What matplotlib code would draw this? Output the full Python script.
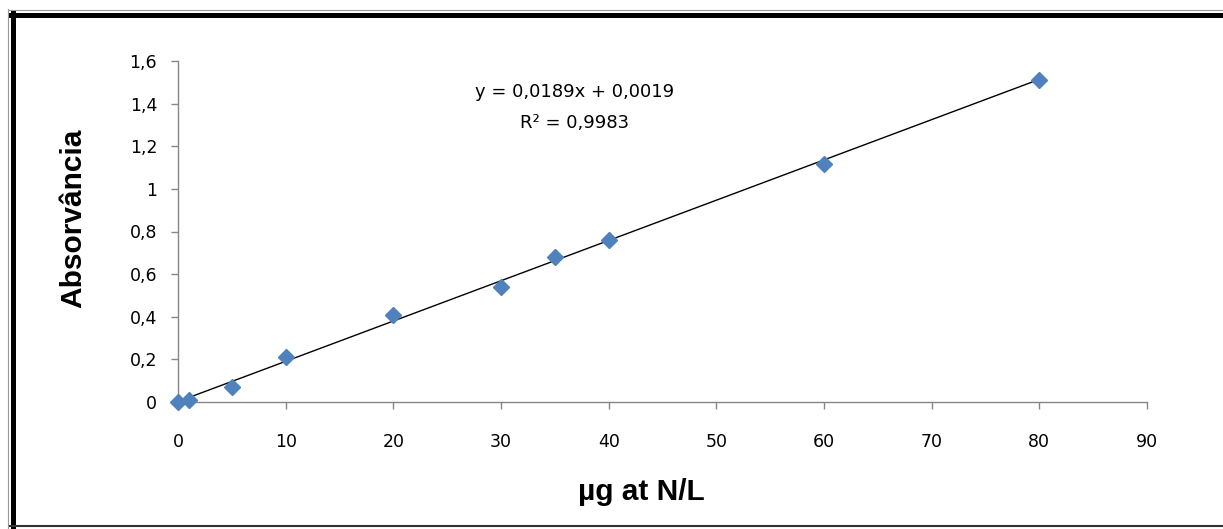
import matplotlib
matplotlib.use("Agg")
import matplotlib.pyplot as plt
from matplotlib.lines import Line2D
import numpy as np

conc = [0, 1, 5, 10, 20, 30, 35, 40, 60, 80]
absorb = [0.0, 0.01, 0.07, 0.21, 0.41, 0.54, 0.68, 0.76, 1.117, 1.511]
slope = 0.0189
intercept = 0.0019
r2_text = "R² = 0,9983"
eq_text = "y = 0,0189x + 0,0019"
xticks = [0, 10, 20, 30, 40, 50, 60, 70, 80, 90]
yticks = [0, 0.2, 0.4, 0.6, 0.8, 1.0, 1.2, 1.4, 1.6]
ytick_labels = ["0", "0,2", "0,4", "0,6", "0,8", "1", "1,2", "1,4", "1,6"]

W, H = 1223, 529
fig = plt.figure(figsize=(W/100, H/100), dpi=100)
plt.rcParams['font.family'] = ['DejaVu Sans']

ax = fig.add_axes([178/W, 1-402/H, (1147-178)/W, (402-61)/H])
ax.set_xlim(0, 90)
ax.set_ylim(0, 1.6)

fitx = np.array([min(conc), max(conc)])
ax.plot(fitx, slope*fitx + intercept, color='black', lw=1.0, zorder=2, clip_on=False)
ax.plot(conc, absorb, linestyle='none', marker='D', markersize=8.5,
        color='#4F81BD', markeredgecolor='#4F81BD', zorder=3, clip_on=False)

ax.set_xticks(xticks)
ax.set_xticklabels([str(t) for t in xticks])
ax.set_yticks(yticks)
ax.set_yticklabels(ytick_labels)
for s in ['top', 'right']:
    ax.spines[s].set_visible(False)
for s in ['left', 'bottom']:
    ax.spines[s].set_color('#868686')
    ax.spines[s].set_linewidth(1.0)
ax.tick_params(axis='both', colors='#868686', direction='out', length=5, width=1,
               labelcolor='black', labelsize=12.5)
ax.tick_params(axis='x', pad=17)
ax.tick_params(axis='y', pad=10)

fig.text(73/W, 1-218/H, 'Absorvância', rotation=90, ha='center', va='center',
         fontsize=21.5, fontweight='bold', family=['Liberation Sans'])
fig.text(641/W, 1-492/H, 'µg at N/L', ha='center', va='center',
         fontsize=21.5, fontweight='bold', family=['Liberation Sans'])

ax.text(575/W, 1-92/H, eq_text, transform=fig.transFigure, ha='center', va='center', fontsize=13)
ax.text(575/W, 1-123/H, r2_text, transform=fig.transFigure, ha='center', va='center', fontsize=13)

# outer frame
fig.add_artist(Line2D([12.5/W, 12.5/W], [0, 1-12/H], transform=fig.transFigure, color='black', lw=3.6))
fig.add_artist(Line2D([10/W, 1], [1-14.5/H, 1-14.5/H], transform=fig.transFigure, color='black', lw=3.6))
fig.add_artist(Line2D([8/W, 8/W], [0, 1-9/H], transform=fig.transFigure, color='#999999', lw=0.8))
fig.add_artist(Line2D([8/W, 1], [1-10/H, 1-10/H], transform=fig.transFigure, color='#999999', lw=0.8))
fig.add_artist(Line2D([10/W, 1], [3/H, 3/H], transform=fig.transFigure, color='#333333', lw=1.5))

fig.savefig('out.png', dpi=100)
